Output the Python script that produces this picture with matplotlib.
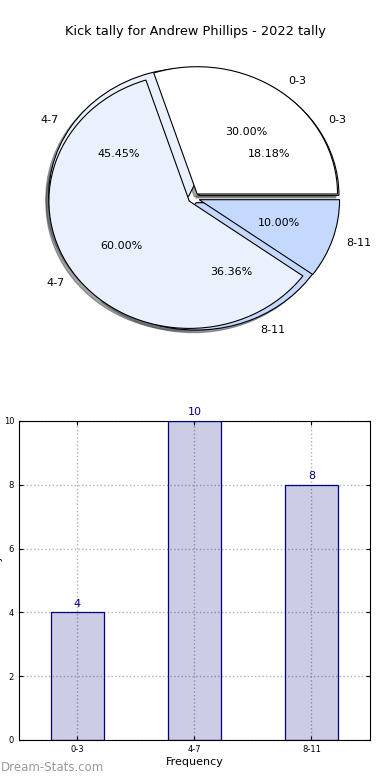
import matplotlib
matplotlib.use("Agg")
import matplotlib.pyplot as plt

title = "Kick tally for Andrew Phillips - 2022 tally"
categories = ["0-3", "4-7", "8-11"]
tally_all = [4, 10, 8]      # 18.18 / 45.45 / 36.36 %
tally_other = [3, 6, 1]     # 30 / 60 / 10 %
pie_colors = ["#ffffff", "#eaf1fd", "#c5d8fd"]

fig = plt.figure(figsize=(3.9, 7.8), dpi=100)
fig.suptitle(title, y=0.968, fontsize=9.3)

# --- pie (two pies drawn on top of each other) ---
ax1 = fig.add_axes([0.047, 0.542, 0.9, 0.408])
for vals in (tally_all, tally_other):
    ax1.pie(vals, labels=categories, colors=pie_colors, autopct="%.2f%%",
            explode=[0.04] * len(vals), shadow={"ox": -0.015, "oy": -0.015},
            startangle=0,
            wedgeprops={"edgecolor": "black", "linewidth": 0.8},
            textprops={"fontsize": 8})
ax1.set_aspect("auto")
ax1.set_xlim(-1.25, 1.25)
ax1.set_ylim(-1.25, 1.25)

# --- bar chart ---
ax2 = fig.add_axes([0.0487, 0.0513, 0.9, 0.409])
x = range(len(categories))
ax2.bar(x, tally_all, width=0.45, color="navy", alpha=0.2, zorder=2)
ax2.bar(x, tally_all, width=0.45, facecolor="none", edgecolor="navy",
        linewidth=0.9, zorder=3)
for xi, v in zip(x, tally_all):
    ax2.text(xi, v + 0.12, str(v), ha="center", va="bottom",
             color="navy", fontsize=8)
ax2.set_xlim(-0.5, 2.5)
ax2.set_ylim(0, 10)
ax2.set_xticks(list(x))
ax2.set_xticklabels(categories)
ax2.set_yticks(range(0, 11, 2))
ax2.tick_params(labelsize=6, direction="in", top=True, right=True, length=3)
ax2.grid(True, linestyle=":", color="#b0b0b0", linewidth=1.0, zorder=0)
ax2.set_axisbelow(True)
ax2.set_xlabel("Frequency", fontsize=8, labelpad=2)
ax2.set_ylabel("Kick Tally", fontsize=8)
ax2.yaxis.set_label_coords(-0.046, 0.5)

fig.text(0.003, 0.008, "Dream-Stats.com", color="#999999", fontsize=8.5,
         ha="left", va="bottom")

fig.savefig("out.png", dpi=100)
